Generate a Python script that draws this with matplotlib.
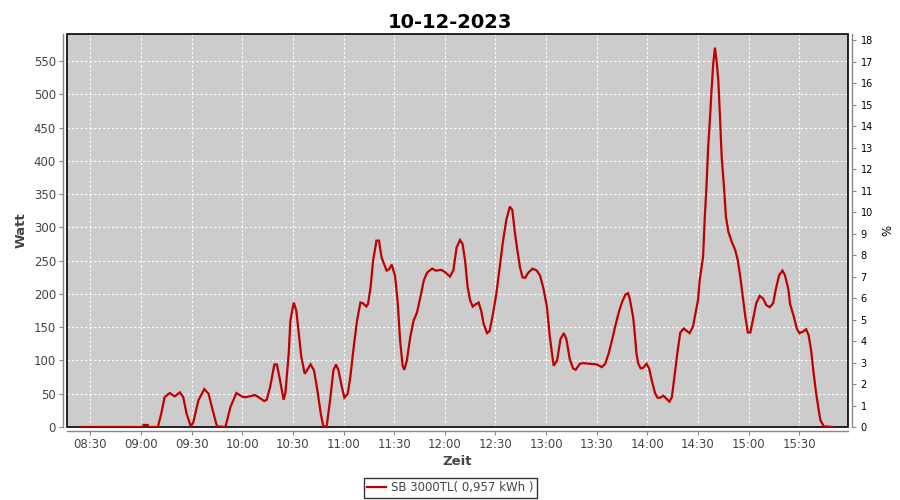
import matplotlib
matplotlib.use("Agg")
import matplotlib.pyplot as plt
import matplotlib.dates as mdates
from matplotlib.patches import Rectangle
import pandas as pd

# ---- data ----
title = "10-12-2023"
series_name = "SB 3000TL( 0,957 kWh )"
day = "2023-12-10"
times = [
    "08:25:00", "09:01:00", "09:01:30", "09:04:00", "09:04:30", "09:10:00", "09:12:00", "09:14:00",
    "09:17:00", "09:20:00", "09:23:00", "09:25:00", "09:27:00", "09:29:30", "09:31:00", "09:34:00",
    "09:37:30", "09:40:00", "09:42:00", "09:45:00", "09:50:00", "09:53:00", "09:56:30", "10:00:30",
    "10:02:30", "10:07:30", "10:09:30", "10:13:00", "10:14:30", "10:16:30", "10:19:00", "10:20:30",
    "10:22:00", "10:24:30", "10:25:30", "10:27:30", "10:28:30", "10:30:30", "10:32:00", "10:33:30",
    "10:35:00", "10:37:00", "10:40:30", "10:42:30", "10:44:30", "10:46:30", "10:48:00", "10:50:00",
    "10:52:00", "10:54:00", "10:55:30", "10:57:00", "10:59:00", "11:00:30", "11:02:30", "11:04:00",
    "11:06:00", "11:08:00", "11:10:00", "11:11:30", "11:13:30", "11:14:30", "11:16:00", "11:17:30",
    "11:19:30", "11:21:00", "11:22:30", "11:25:30", "11:27:00", "11:28:30", "11:30:30", "11:32:00",
    "11:33:30", "11:35:00", "11:36:00", "11:37:30", "11:39:30", "11:41:30", "11:43:30", "11:45:30",
    "11:47:30", "11:49:30", "11:52:30", "11:54:30", "11:58:00", "12:00:00", "12:03:00", "12:05:00",
    "12:07:00", "12:09:00", "12:10:30", "12:12:00", "12:13:30", "12:15:00", "12:16:30", "12:18:00",
    "12:20:00", "12:21:30", "12:23:00", "12:25:00", "12:26:30", "12:28:30", "12:30:30", "12:32:30",
    "12:34:30", "12:36:30", "12:38:30", "12:40:00", "12:41:30", "12:43:00", "12:44:30", "12:46:00",
    "12:47:30", "12:49:30", "12:52:00", "12:54:30", "12:56:30", "12:58:30", "13:00:30", "13:02:00",
    "13:03:30", "13:04:30", "13:06:30", "13:08:30", "13:10:30", "13:12:00", "13:14:00", "13:16:00",
    "13:17:30", "13:20:00", "13:22:00", "13:26:00", "13:30:00", "13:33:00", "13:35:00", "13:37:00",
    "13:39:00", "13:41:00", "13:43:00", "13:45:00", "13:47:00", "13:48:30", "13:49:30", "13:51:30",
    "13:52:30", "13:53:30", "13:54:30", "13:56:00", "13:57:30", "13:59:30", "14:01:00", "14:02:30",
    "14:04:30", "14:06:00", "14:07:30", "14:09:30", "14:11:30", "14:13:00", "14:14:30", "14:16:00",
    "14:18:00", "14:19:30", "14:21:30", "14:23:00", "14:25:00", "14:27:00", "14:28:30", "14:30:00",
    "14:31:00", "14:33:00", "14:34:00", "14:35:00", "14:36:00", "14:37:00", "14:38:00", "14:39:00",
    "14:40:00", "14:41:00", "14:42:00", "14:43:00", "14:44:00", "14:45:30", "14:46:30", "14:48:00",
    "14:50:00", "14:52:00", "14:53:30", "14:55:00", "14:56:30", "14:58:00", "14:59:30", "15:01:00",
    "15:02:30", "15:04:30", "15:06:30", "15:08:30", "15:10:30", "15:12:30", "15:14:30", "15:16:00",
    "15:18:00", "15:20:00", "15:21:30", "15:23:30", "15:24:30", "15:26:30", "15:28:30", "15:30:00",
    "15:32:00", "15:34:00", "15:35:30", "15:37:00", "15:38:30", "15:40:00", "15:41:30", "15:42:30",
    "15:44:30", "15:50:00",
]
watts = [
    0, 0, 3, 3, 0, 0, 20, 45,
    51, 46, 52, 45, 20, 1, 7, 40,
    57, 50, 30, 1, 0, 30, 51, 45,
    45, 48, 45, 39, 41, 60, 94, 94,
    75, 41, 50, 110, 160, 187, 175, 140,
    105, 80, 94, 85, 55, 20, 1, 1,
    40, 85, 94, 85, 60, 44, 50, 75,
    120, 160, 187, 186, 181, 185, 210, 250,
    280, 280, 255, 235, 237, 244, 227, 190,
    130, 92, 86, 100, 135, 160, 172, 195,
    220, 232, 238, 235, 236, 233, 226, 235,
    270, 281, 275, 250, 210, 190, 181, 184,
    187, 175, 155, 141, 144, 170, 200, 240,
    280, 312, 331, 326, 292, 265, 240, 225,
    224, 232, 238, 235, 227, 207, 180, 140,
    110, 92, 100, 132, 141, 132, 102, 88,
    86, 95, 96, 95, 94, 90, 95, 110,
    130, 152, 172, 188, 199, 201, 193, 166,
    141, 111, 96, 88, 89, 95, 88, 71,
    51, 44, 44, 47, 42, 38, 45, 76,
    116, 142, 148, 145, 141, 151, 171, 191,
    221, 256, 316, 361, 421, 461, 506, 546,
    570, 550, 521, 466, 406, 356, 316, 293,
    278, 266, 251, 226, 196, 166, 142, 142,
    161, 186, 197, 193, 183, 180, 186, 206,
    228, 235, 228, 207, 185, 168, 148, 141,
    143, 147, 138, 115, 80, 50, 25, 10,
    1, 0,
]
x_start = "08:16:10"
x_end = "15:58:50"
watt_max = 590.5
pct_max = 18.3
pct_ticks = list(range(0, 19))

# ---- figure ----
gray_txt = "#444444"
axis_gray = "#888888"
line_red = "#C00000"

fig = plt.figure(figsize=(9, 5), dpi=100)
ax = fig.add_axes([67 / 900, 1 - 427 / 500, (848 - 67) / 900, (427 - 34) / 500])
ax.set_facecolor("#CCCCCC")

t = pd.to_datetime([f"{day} {s}" for s in times])
ax.plot(t, watts, color=line_red, lw=1.6, zorder=6, label=series_name, solid_joinstyle="miter")

ax.set_xlim(pd.Timestamp(f"{day} {x_start}"), pd.Timestamp(f"{day} {x_end}"))
ax.set_ylim(0, watt_max)
ax.set_yticks(range(0, 551, 50))
ax.xaxis.set_major_locator(mdates.MinuteLocator(byminute=[0, 30]))
ax.xaxis.set_major_formatter(mdates.DateFormatter("%H:%M"))

ax.grid(True, color="white", ls=(0, (2, 2)), lw=0.8)
ax.set_axisbelow(True)

for side in ["top", "right"]:
    ax.spines[side].set_visible(False)
for side in ["left", "bottom"]:
    ax.spines[side].set_position(("outward", 3))
    ax.spines[side].set_color(axis_gray)
    ax.spines[side].set_linewidth(1.0)
ax.tick_params(axis="both", direction="out", length=3, width=0.8, color=axis_gray,
               labelsize=8.5, labelcolor=gray_txt, pad=2)

ax.add_patch(Rectangle((0, 0), 1, 1, transform=ax.transAxes, fill=False,
                       edgecolor="black", lw=1.2, zorder=5, clip_on=False))

ax.set_ylabel("Watt", fontsize=9.5, fontweight="bold", color=gray_txt, labelpad=4)
ax.set_xlabel("Zeit", fontsize=9.5, fontweight="bold", color=gray_txt, labelpad=3)

ax2 = ax.twinx()
ax2.set_ylim(0, pct_max)
ax2.set_yticks(pct_ticks)
for side in ["top", "left", "bottom"]:
    ax2.spines[side].set_visible(False)
ax2.spines["right"].set_position(("outward", 3))
ax2.spines["right"].set_color(axis_gray)
ax2.spines["right"].set_linewidth(1.0)
ax2.tick_params(axis="y", direction="out", length=3, width=0.8, color=axis_gray,
                labelsize=7, labelcolor="black", pad=3)
ax2.set_ylabel("%", fontsize=8.5, color="black", labelpad=6)

fig.suptitle(title, x=0.5, y=0.975, fontsize=14, fontweight="bold", va="top")

h, l = ax.get_legend_handles_labels()
leg = fig.legend(h, l, loc="center", bbox_to_anchor=(450.5 / 900, 1 - 488 / 500),
                 fontsize=8.5, frameon=True, fancybox=False, edgecolor="black",
                 handlelength=1.6, handletextpad=0.4, borderpad=0.3, borderaxespad=0)
leg.get_frame().set_linewidth(1.0)
for txt in leg.get_texts():
    txt.set_color(gray_txt)

fig.savefig("out.png", dpi=100)
